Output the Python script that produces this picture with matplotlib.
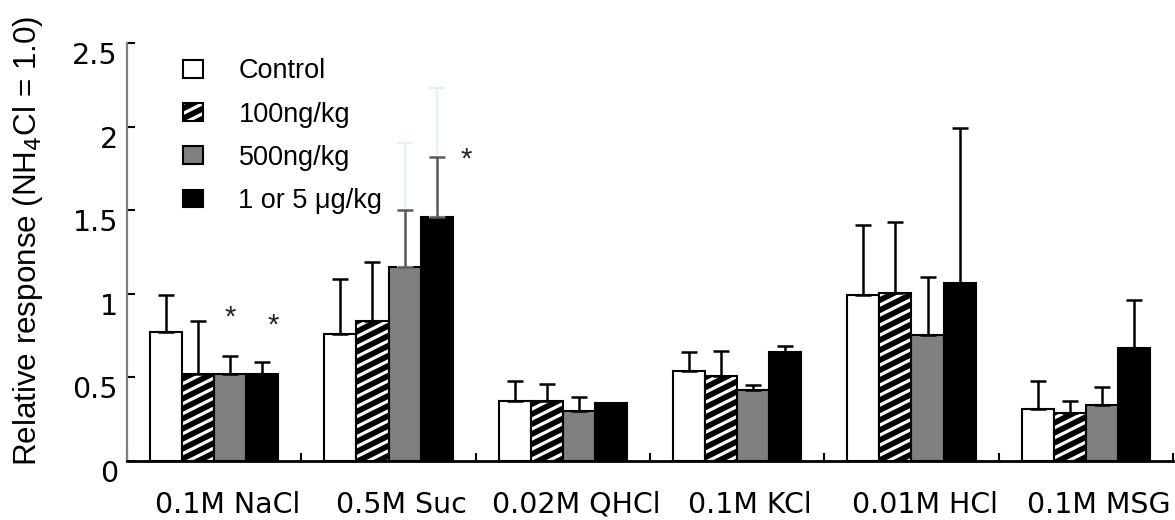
import warnings
warnings.filterwarnings('ignore')
import matplotlib
matplotlib.use('Agg')
import matplotlib.pyplot as plt
import numpy as np
from matplotlib.patches import Patch
from matplotlib.path import Path
import matplotlib.hatch as mhatch
import matplotlib.transforms as mtransforms

# ---------------- data ----------------
categories = ['0.1M NaCl', '0.5M Suc', '0.02M QHCl', '0.1M KCl', '0.01M HCl', '0.1M MSG']
series_names = ['Control', '100ng/kg', '500ng/kg', '1 or 5 \u03bcg/kg']

control = [0.77, 0.76, 0.36, 0.54, 0.99, 0.31]
control_err = [0.22, 0.33, 0.12, 0.11, 0.42, 0.17]

ng100 = [0.52, 0.84, 0.36, 0.51, 1.007, 0.29]
ng100_err = [0.32, 0.35, 0.10, 0.15, 0.42, 0.07]

ng500 = [0.52, 1.16, 0.30, 0.425, 0.755, 0.333]
ng500_err = [0.11, 0.34, 0.085, 0.03, 0.345, 0.107]

ug = [0.52, 1.46, 0.345, 0.65, 1.065, 0.678]
ug_err = [0.07, 0.36, 0.0, 0.04, 0.925, 0.285]

# faint (ghost) error bar tops seen in the 0.5M Suc group: (group, series, top value)
faint_err = [(1, 2, 1.90), (1, 3, 2.23)]
# significance stars: (group, series, y value)
stars = [(0, 2, 0.86), (0, 3, 0.81), (1, 3, 1.80)]

yticks = [0, 0.5, 1, 1.5, 2, 2.5]
ytick_labels = ['0', '0.5', '1', '1.5', '2', '2.5']


# ---------------- shallow diagonal stripe hatch ----------------
class ShallowStripe(mhatch.HatchPatternBase):
    def __init__(self, hatch, density):
        n = 10 if 'z' in hatch else 0
        self.offs = (np.arange(-n // 2, n) + 0.5) / n if n else np.array([])
        self.num_vertices = 2 * len(self.offs)

    def set_vertices_and_codes(self, vertices, codes):
        c = self.offs
        vertices[0::2, 0] = 0.0
        vertices[0::2, 1] = c
        vertices[1::2, 0] = 1.0
        vertices[1::2, 1] = c + 0.5
        codes[0::2] = Path.MOVETO
        codes[1::2] = Path.LINETO


mhatch._hatch_types.append(ShallowStripe)

plt.rcParams['hatch.linewidth'] = 2.3

W, H = 1175, 520
fig = plt.figure(figsize=(W / 100, H / 100), dpi=100)
ax = fig.add_axes([127 / W, 59 / H, 1046 / W, 418 / H])

values = [control, ng100, ng500, ug]
errors = [control_err, ng100_err, ng500_err, ug_err]
facecolors = ['white', 'black', '#808080', 'black']
hatched = [False, True, False, False]
err_colors = [['k'] * 6, ['k'] * 6, ['k', '#5a5a5a', 'k', 'k', 'k', 'k'],
              ['k', '#5a5a5a', 'k', 'k', 'k', 'k']]

x = np.arange(len(categories))
w = 0.184
offsets = [(i - 1.5) * w for i in range(4)]

for i in range(4):
    pos = x + offsets[i]
    if hatched[i]:
        ax.bar(pos, values[i], w, color='black', edgecolor='white', linewidth=0,
               hatch='z', zorder=2)
        ax.bar(pos, values[i], w, fill=False, edgecolor='black', linewidth=1.5, zorder=2.1)
    else:
        ax.bar(pos, values[i], w, color=facecolors[i], edgecolor='black', linewidth=1.5,
               zorder=2)

# faint ghost error bars (drawn under the real ones)
for g, s, top in faint_err:
    xp = x[g] + offsets[s]
    v = values[s][g]
    ax.errorbar([xp], [v], yerr=[[0], [top - v]], fmt='none', ecolor='#dff3f3',
                elinewidth=1.5, capsize=6, capthick=1.5, zorder=3)

for i in range(4):
    for g in range(len(categories)):
        e = errors[i][g]
        if e <= 0:
            continue
        xp = x[g] + offsets[i]
        ax.errorbar([xp], [values[i][g]], yerr=[[0], [e]], fmt='none',
                    ecolor=err_colors[i][g], elinewidth=1.8, capsize=6, capthick=1.8,
                    zorder=4)

for g, s, yv in stars:
    dx = 0.0 if (g == 0 and s == 2) else (0.06 if g == 0 else 0.17)
    ax.text(x[g] + offsets[s] + dx, yv, '*', ha='center', va='center', fontsize=21,
            family='Liberation Sans', color='#222222', zorder=5)

# ---------------- axes ----------------
ax.set_xlim(-0.5, len(categories) - 0.5)
ax.set_ylim(0, 2.5)
ax.spines['top'].set_visible(False)
ax.spines['right'].set_visible(False)
ax.spines['left'].set_color('#808080')
ax.spines['left'].set_linewidth(1.6)
ax.spines['bottom'].set_color('black')
ax.spines['bottom'].set_linewidth(2.0)

ax.set_yticks(yticks, ytick_labels)
ax.tick_params(axis='y', direction='in', length=6, width=1.5, color='black', pad=6.5,
               labelsize=20.5)
for lbl in ax.get_yticklabels():
    lbl.set_family('DejaVu Sans')
    lbl.set_transform(lbl.get_transform() +
                      mtransforms.ScaledTranslation(0, -10 / 100, fig.dpi_scale_trans))

ax.set_xticks(x, categories)
ax.set_xticks(np.arange(len(categories) + 1) - 0.5, minor=True)
ax.tick_params(axis='x', which='major', length=0, pad=21.5, labelsize=20.5)
ax.tick_params(axis='x', which='minor', direction='in', length=6, width=1.5, color='black')
for lbl in ax.get_xticklabels():
    lbl.set_family('DejaVu Sans')
    lbl.set_transform(lbl.get_transform() +
                      mtransforms.ScaledTranslation(13 / 100, 0, fig.dpi_scale_trans))

fig.text(28 / W, 1 - 241 / H, 'Relative response (NH$_4$Cl = 1.0)', rotation=90,
         ha='center', va='center', fontsize=22.6, family='Liberation Sans')

handles = []
for i in range(4):
    if hatched[i]:
        handles.append((Patch(facecolor='black', edgecolor='white', hatch='z', linewidth=0),
                        Patch(fill=False, edgecolor='black', linewidth=1.5)))
    else:
        handles.append(Patch(facecolor=facecolors[i], edgecolor='black', linewidth=1.5))
ax.legend(handles, series_names, loc='upper left', bbox_to_anchor=(0.0535, 0.963),
          frameon=False, prop=dict(family='Liberation Sans', size=19.5),
          handlelength=0.75, handleheight=0.6, handletextpad=1.3, labelspacing=0.63,
          borderpad=0, borderaxespad=0)

fig.savefig('out.png', dpi=100)
